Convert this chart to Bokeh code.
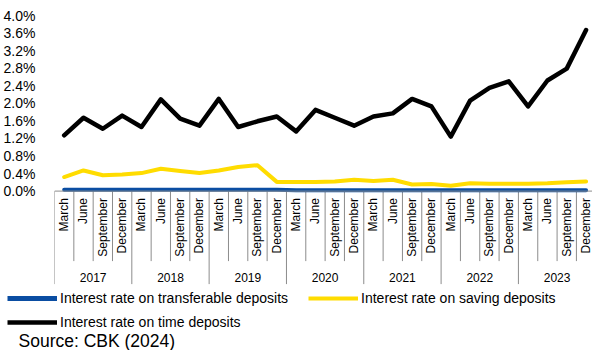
from math import pi
from bokeh.plotting import figure
from bokeh.layouts import column
from bokeh.models import (Range1d, FixedTicker, PrintfTickFormatter, Span, Legend,
                          LegendItem, Label)
from bokeh.core.properties import value
from bokeh.embed import file_html
from bokeh.resources import INLINE

years = ["2017", "2018", "2019", "2020", "2021", "2022", "2023"]
months = ["March", "June", "September", "December"]

transferable = [0.03, 0.03, 0.03, 0.03, 0.03, 0.03, 0.03, 0.03, 0.03, 0.03, 0.03, 0.03,
                0.02, 0.02, 0.02, 0.02, 0.02, 0.02, 0.02, 0.02, 0.02, 0.02, 0.02, 0.02,
                0.02, 0.02, 0.02, 0.02]
saving = [0.32, 0.47, 0.36, 0.38, 0.41, 0.51, 0.46, 0.41, 0.47, 0.55, 0.59, 0.21,
          0.21, 0.21, 0.22, 0.26, 0.23, 0.26, 0.15, 0.16, 0.12, 0.18, 0.17, 0.17,
          0.17, 0.18, 0.20, 0.22]
time_dep = [1.27, 1.67, 1.42, 1.72, 1.46, 2.09, 1.65, 1.49, 2.10, 1.46, 1.59, 1.70,
            1.36, 1.85, 1.67, 1.49, 1.70, 1.77, 2.10, 1.93, 1.24, 2.06, 2.35, 2.50,
            1.93, 2.52, 2.79, 3.67]
y_ticks = [0.0, 0.4, 0.8, 1.2, 1.6, 2.0, 2.4, 2.8, 3.2, 3.6, 4.0]
series_names = ["Interest rate on transferable deposits",
                "Interest rate on saving deposits",
                "Interest rate on time deposits"]
source_note = "Source: CBK (2024)"

FONT = value("Liberation Sans")
BLUE = "#0a4da2"
YELLOW = "#ffdc00"
BLACK = "#000000"
GRID = "#8c8c8c"
PX = 43.9        # pixels per percentage point
CAT_W = 19.33    # pixels per quarter
TOP_H = 286

n = len(years) * len(months)
xs = [i + 0.5 for i in range(n)]

# ---------------- chart ----------------
p = figure(width=592, height=TOP_H, output_backend="svg", toolbar_location=None,
           x_range=Range1d(0, 538 / CAT_W), y_range=Range1d(4.0 - (TOP_H - 15) / PX, 4.0),
           x_axis_location=None, frame_align=False,
           min_border_left=54, min_border_right=0, min_border_top=15, min_border_bottom=0)
p.outline_line_color = None
p.grid.visible = False

ax = p.yaxis[0]
ax.ticker = FixedTicker(ticks=y_ticks)
ax.formatter = PrintfTickFormatter(format="%.1f%%")
ax.axis_line_color = None
ax.major_tick_line_color = None
ax.minor_tick_line_color = None
ax.major_label_standoff = 13
ax.major_label_text_font = "Liberation Sans"
ax.major_label_text_font_size = "14px"
ax.major_label_text_color = "#000000"

# category axis (quarters grouped by year), drawn in the frame
p.add_layout(Span(location=0, dimension="width", line_color=GRID, line_width=1))
month_b = [b for b in range(n + 1) if b % len(months) != 0]
year_b = [b for b in range(n + 1) if b % len(months) == 0]
p.segment(x0=month_b, y0=[0] * len(month_b), x1=month_b, y1=[-70 / PX] * len(month_b),
          line_color=GRID, line_width=1)
p.segment(x0=year_b, y0=[0] * len(year_b), x1=year_b, y1=[-93 / PX] * len(year_b),
          line_color=GRID, line_width=1)

p.text(x=xs, y=[0] * n, text=months * len(years), angle=pi / 2, y_offset=7,
       text_align="right", text_baseline="middle", text_font=FONT,
       text_font_size="12px", text_color="#000000")
year_x = [len(months) * k + len(months) / 2 for k in range(len(years))]
p.text(x=year_x, y=[0] * len(years), text=years, y_offset=86,
       text_align="center", text_baseline="middle", text_font=FONT,
       text_font_size="12px", text_color="#000000")

styles = [dict(line_color=BLUE, line_width=4),
          dict(line_color=YELLOW, line_width=4),
          dict(line_color=BLACK, line_width=4.5)]
data = [transferable, saving, time_dep]
for k in (2, 1, 0):
    p.line(xs, data[k], line_join="round", line_cap="round", **styles[k])

# ---------------- legend + source strip ----------------
q = figure(width=592, height=350 - TOP_H, output_backend="svg", toolbar_location=None,
           x_range=Range1d(-100, -99), y_range=Range1d(-100, -99),
           x_axis_location=None, y_axis_location=None, frame_align=False,
           min_border_left=0, min_border_right=0, min_border_top=0, min_border_bottom=0)
q.outline_line_color = None
q.grid.visible = False
# same series, outside the strip's view: they only feed the legend swatches
lr = [q.line(xs, data[k], line_cap="butt", **styles[k]) for k in range(3)]
lr[0].glyph.line_width = 5

leg1 = Legend(items=[LegendItem(label=series_names[0], renderers=[lr[0]]),
                     LegendItem(label=series_names[1], renderers=[lr[1]])],
              orientation="horizontal", location=(7, 44))
leg2 = Legend(items=[LegendItem(label=series_names[2], renderers=[lr[2]])],
              orientation="horizontal", location=(7, 20.5))
for lg in (leg1, leg2):
    lg.padding = 0
    lg.margin = 0
    lg.spacing = 20
    lg.label_standoff = 3
    lg.glyph_width = 50
    lg.glyph_height = 16
    lg.label_height = 16
    lg.border_line_color = None
    lg.background_fill_alpha = 0
    lg.label_text_font = "Liberation Sans"
    lg.label_text_font_size = "14px"
    lg.label_text_color = "#000000"
    q.add_layout(lg)

q.add_layout(Label(x=18, y=10, x_units="screen", y_units="screen",
                   text=source_note, text_baseline="middle",
                   text_font="Liberation Sans", text_font_size="17.5px",
                   text_color="#000000"))

layout = column(p, q, spacing=0)
open("out.html", "w").write(file_html(layout, INLINE))
